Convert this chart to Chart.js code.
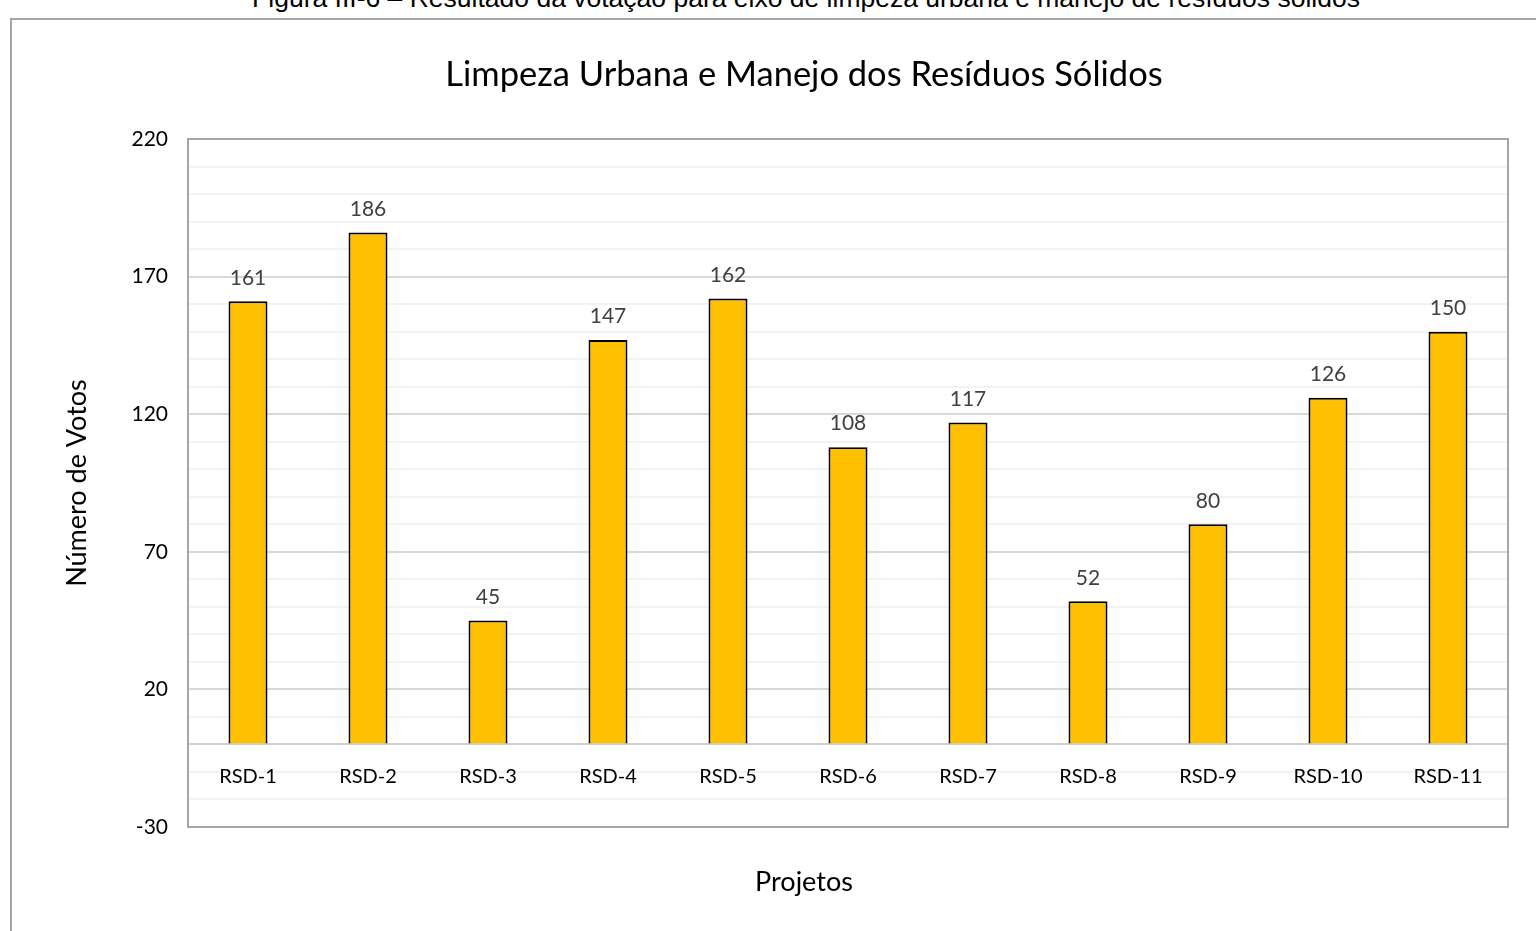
<!DOCTYPE html>
<html>
<head>
<meta charset="utf-8">
<script src="https://cdn.jsdelivr.net/npm/chart.js@4"></script>
<style>
  html, body { margin: 0; padding: 0; background: #fff; overflow: hidden; }
  #wrap { position: relative; width: 1536px; height: 931px; }
  #caption {
    position: absolute; left: 0; width: 1612px; top: -17px; text-align: center;
    font: 26.5px "Liberation Sans", Arial, sans-serif; color: #000; white-space: nowrap;
  }
  #frame {
    position: absolute; left: 10px; top: 18px; width: 1560px; height: 960px;
    border: 2px solid #a6a6a6; box-sizing: border-box;
  }
  canvas { position: absolute; left: 0; top: 0; }
</style>
</head>
<body>
<div id="wrap">
  <div id="caption">Figura III-6 – Resultado da votação para eixo de limpeza urbana e manejo de resíduos sólidos</div>
  <div id="frame"></div>
  <canvas id="chart" width="1536" height="931"></canvas>
</div>
<script>
const projetos = ['RSD-1', 'RSD-2', 'RSD-3', 'RSD-4', 'RSD-5', 'RSD-6', 'RSD-7', 'RSD-8', 'RSD-9', 'RSD-10', 'RSD-11'];
const votos = [161, 186, 45, 147, 162, 108, 117, 52, 80, 126, 150];
const yMin = -30;
const yMax = 220;

const fontName = 'Lato, "Open Sans", sans-serif';

// rotulos de valor em cima de cada barra
const valueLabels = {
  id: 'valueLabels',
  afterDatasetsDraw(chart) {
    const ctx = chart.ctx;
    const meta = chart.getDatasetMeta(0);
    ctx.save();
    ctx.font = '21px ' + fontName;
    ctx.fillStyle = '#404040';
    ctx.textAlign = 'center';
    ctx.textBaseline = 'bottom';
    meta.data.forEach((bar, i) => {
      ctx.fillText(votos[i], bar.x, bar.y - 13);
    });
    ctx.restore();
  }
};

// moldura da area de plotagem
const plotBorder = {
  id: 'plotBorder',
  afterDraw(chart) {
    const a = chart.chartArea;
    const ctx = chart.ctx;
    ctx.save();
    ctx.strokeStyle = '#a6a6a6';
    ctx.lineWidth = 2;
    ctx.strokeRect(a.left, a.top, a.right - a.left, a.bottom - a.top);
    ctx.restore();
  }
};

const ctx = document.getElementById('chart').getContext('2d');
new Chart(ctx, {
  type: 'bar',
  data: {
    labels: projetos,
    datasets: [{
      data: votos,
      backgroundColor: '#ffc000',
      borderColor: '#000000',
      borderWidth: 2,
      borderSkipped: 'bottom',
      barPercentage: 0.325,
      categoryPercentage: 1
    }]
  },
  options: {
    responsive: false,
    animation: false,
    layout: { padding: { left: 100, top: 0, right: 28, bottom: 0 } },
    plugins: {
      legend: { display: false },
      tooltip: { enabled: false },
      title: {
        display: true,
        text: 'Limpeza Urbana e Manejo dos Resíduos Sólidos',
        color: '#000',
        font: { family: fontName, size: 34.5, weight: 'normal' },
        padding: { top: 54.3, bottom: 43.3 }
      }
    },
    scales: {
      x: {
        position: { y: 0 },
        grid: { display: false, drawTicks: false },
        border: { display: true, color: '#d0d0d0', width: 2 },
        ticks: { padding: 20, color: '#000', font: { family: fontName, size: 20 } }
      },
      xt: {
        type: 'category',
        labels: projetos,
        position: 'bottom',
        fullSize: true,
        grid: { display: false, drawTicks: false },
        border: { display: false },
        ticks: { display: false },
        title: {
          display: true, text: 'Projetos', color: '#000',
          font: { family: fontName, size: 27 },
          padding: { top: 0, bottom: 33 }
        },
        afterFit(scale) { scale.height = 104; }
      },
      y: {
        min: yMin,
        max: yMax,
        grid: {
          drawTicks: false,
          lineWidth: 2,
          color: c => {
            const v = c.tick.value;
            if (v === 0) return '#d0d0d0';
            if ((v - yMin) % 50 === 0) return '#d9d9d9';
            return '#f2f2f2';
          }
        },
        border: { display: false },
        ticks: {
          stepSize: 10,
          autoSkip: false,
          padding: 20,
          color: '#000',
          font: { family: fontName, size: 21 },
          callback: v => ((v - yMin) % 50 === 0 ? v : '')
        },
        title: {
          display: true, text: 'Número de Votos', color: '#000',
          font: { family: fontName, size: 27 },
          padding: { top: -39, bottom: 0 }
        },
        afterFit(scale) { scale.width = 88; }
      }
    }
  },
  plugins: [valueLabels, plotBorder]
});
</script>
</body>
</html>
